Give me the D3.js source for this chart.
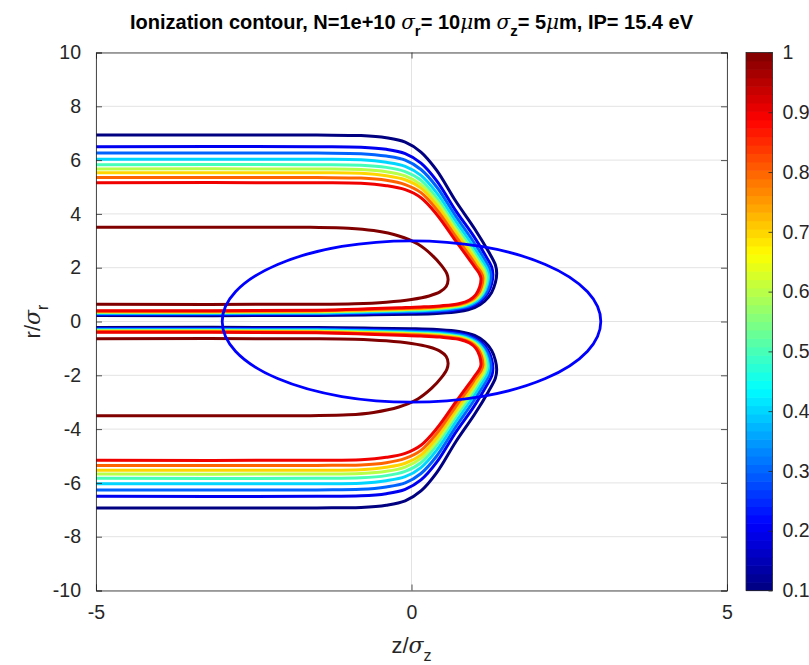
<!DOCTYPE html>
<html>
<head>
<meta charset="utf-8">
<script src="https://cdn.jsdelivr.net/npm/d3@7"></script>
<style>
body{margin:0;background:#fff;}
svg{font-family:"Liberation Sans",Arial,Helvetica,sans-serif;}
</style>
</head>
<body>
<svg width="809" height="665"></svg>
<script>
// contour levels (ionization fraction)
const levels = [0.1,0.2,0.3,0.4,0.5,0.6,0.7,0.8,0.9,1.0];

// upper half of each contour, [z/sigma_z, r/sigma_r]
const lvl01 = [[-5,6.93],[-1.5,6.93],[-0.8,6.91],[-0.4,6.83],[-0.1,6.67],[0.15,6.30],[0.4,5.62],[0.7,4.48],[1.0,3.45],[1.22,2.60],[1.33,2.10],[1.35,1.79],
               [1.33,1.45],[1.27,1.08],[1.16,0.76],[1.0,0.52],[0.75,0.37],[0.4,0.30],[0,0.27],[-0.6,0.25],[-1.5,0.225],[-5,0.22]];
const lvl02 = [[-5,6.50],[-1.5,6.50],[-0.8,6.48],[-0.4,6.40],[-0.1,6.24],[0.15,5.89],[0.4,5.23],[0.7,4.12],[0.98,3.19],[1.17,2.46],[1.27,2.03],[1.29,1.75],
               [1.27,1.41],[1.21,1.06],[1.10,0.77],[0.94,0.55],[0.68,0.42],[0.34,0.36],[-0.05,0.33],[-0.62,0.30],[-1.5,0.27],[-5,0.26]];
const lvl03 = [[-5,6.26],[-1.5,6.26],[-0.8,6.24],[-0.4,6.15],[-0.1,6.00],[0.15,5.65],[0.4,5.00],[0.7,3.92],[0.96,3.04],[1.14,2.38],[1.23,1.99],[1.26,1.73],
               [1.24,1.39],[1.18,1.05],[1.07,0.78],[0.91,0.57],[0.64,0.45],[0.31,0.39],[-0.08,0.36],[-0.64,0.33],[-1.5,0.30],[-5,0.29]];
const lvl04 = [[-5,6.03],[-1.5,6.03],[-0.8,6.01],[-0.4,5.92],[-0.1,5.77],[0.15,5.43],[0.4,4.78],[0.7,3.73],[0.95,2.89],[1.11,2.31],[1.20,1.95],[1.22,1.70],
               [1.20,1.36],[1.14,1.04],[1.04,0.78],[0.87,0.59],[0.60,0.48],[0.27,0.42],[-0.10,0.39],[-0.65,0.36],[-1.5,0.32],[-5,0.31]];
const lvl05 = [[-5,5.83],[-1.5,5.83],[-0.8,5.81],[-0.4,5.73],[-0.1,5.57],[0.15,5.25],[0.4,4.60],[0.7,3.56],[0.94,2.77],[1.08,2.25],[1.17,1.91],[1.20,1.69],
               [1.18,1.35],[1.12,1.03],[1.01,0.79],[0.85,0.61],[0.56,0.50],[0.25,0.45],[-0.12,0.42],[-0.66,0.39],[-1.5,0.35],[-5,0.33]];
const lvl06 = [[-5,5.67],[-1.5,5.67],[-0.8,5.65],[-0.4,5.57],[-0.1,5.41],[0.15,5.09],[0.4,4.46],[0.7,3.43],[0.93,2.68],[1.06,2.20],[1.15,1.89],[1.17,1.67],
               [1.15,1.33],[1.09,1.02],[0.99,0.79],[0.82,0.62],[0.54,0.52],[0.22,0.47],[-0.14,0.44],[-0.67,0.41],[-1.5,0.36],[-5,0.35]];
const lvl07 = [[-5,5.53],[-1.5,5.53],[-0.8,5.51],[-0.4,5.42],[-0.1,5.27],[0.15,4.96],[0.4,4.32],[0.7,3.31],[0.92,2.59],[1.05,2.15],[1.12,1.86],[1.15,1.66],
               [1.13,1.32],[1.07,1.02],[0.97,0.79],[0.80,0.63],[0.51,0.54],[0.20,0.49],[-0.16,0.46],[-0.68,0.42],[-1.5,0.38],[-5,0.36]];
const lvl08 = [[-5,5.35],[-1.5,5.35],[-0.8,5.33],[-0.4,5.25],[-0.1,5.09],[0.15,4.79],[0.4,4.16],[0.7,3.16],[0.91,2.48],[1.02,2.09],[1.10,1.83],[1.13,1.64],
               [1.11,1.30],[1.05,1.01],[0.95,0.80],[0.78,0.65],[0.48,0.56],[0.18,0.51],[-0.18,0.48],[-0.69,0.45],[-1.5,0.40],[-5,0.38]];
const lvl09 = [[-5,5.16],[-1.5,5.16],[-0.8,5.14],[-0.4,5.05],[-0.1,4.90],[0.15,4.60],[0.4,3.98],[0.7,3.00],[0.9,2.36],[1.0,2.03],[1.07,1.80],[1.10,1.62],
               [1.08,1.28],[1.02,1.00],[0.92,0.80],[0.75,0.66],[0.45,0.58],[0.15,0.54],[-0.2,0.51],[-0.7,0.47],[-1.5,0.42],[-5,0.40]];
const lvl10 = [[-5,3.50],[-1.6,3.50],[-1.0,3.47],[-0.6,3.38],[-0.2,3.18],[0.1,2.88],[0.32,2.48],[0.48,2.07],[0.56,1.78],[0.58,1.55],
               [0.55,1.30],[0.45,1.10],[0.28,0.95],[0,0.82],[-0.4,0.72],[-0.9,0.66],[-1.6,0.64],[-5,0.64]];
const contours = [lvl01,lvl02,lvl03,lvl04,lvl05,lvl06,lvl07,lvl08,lvl09,lvl10];

// bunch outline: semi-axes in z and r
const ellipseAxes = [3, 3];

const xTicks = [-5, 0, 5];
const yTicks = [-10,-8,-6,-4,-2,0,2,4,6,8,10];
const cbTicks = [0.1,0.2,0.3,0.4,0.5,0.6,0.7,0.8,0.9,1];

// matlab jet
const jet = t => {
    const c = v => Math.round(255*Math.max(0, Math.min(1, v)));
    return `rgb(${c(1.5-Math.abs(4*t-3))},${c(1.5-Math.abs(4*t-2))},${c(1.5-Math.abs(4*t-1))})`;
};

function Start(){
    const svg = d3.select('svg');
    const margin = { top:52.5, left:96 };
    const innerWidth = 727 - margin.left;
    const innerHeight = 590.5 - margin.top;

    const xscale = d3.scaleLinear().domain([-5,5]).range([0,innerWidth]);
    const yscale = d3.scaleLinear().domain([-10,10]).range([innerHeight,0]);
    const cscale = d3.scaleLinear().domain([0.1,1]).range([0,1]);

    const g = svg.append('g')
        .attr('transform',`translate(${margin.left},${margin.top})`);

    g.append('clipPath').attr('id','clip')
      .append('rect').attr('width',innerWidth).attr('height',innerHeight);

    // grid
    g.append('g').selectAll('line').data(xTicks).enter().append('line')
        .attr('x1',d=>xscale(d)).attr('x2',d=>xscale(d))
        .attr('y1',0).attr('y2',innerHeight)
        .attr('stroke','#e3e3e3').attr('stroke-width',1);
    g.append('g').selectAll('line').data(yTicks).enter().append('line')
        .attr('y1',d=>yscale(d)).attr('y2',d=>yscale(d))
        .attr('x1',0).attr('x2',innerWidth)
        .attr('stroke','#e3e3e3').attr('stroke-width',1);

    const plot = g.append('g').attr('clip-path','url(#clip)');

    const line = d3.line()
        .x(d=>xscale(d[0]))
        .y(d=>yscale(d[1]))
        .curve(d3.curveCatmullRom.alpha(0.5));

    contours.forEach((pts,i) => {
        const col = jet(cscale(levels[i]));
        plot.append('path').attr('d',line(pts))
            .attr('fill','none').attr('stroke',col).attr('stroke-width',3);
        plot.append('path').attr('d',line(pts.map(p=>[p[0],-p[1]])))
            .attr('fill','none').attr('stroke',col).attr('stroke-width',3);
    });

    plot.append('ellipse')
        .attr('cx',xscale(0)).attr('cy',yscale(0))
        .attr('rx',xscale(ellipseAxes[0])-xscale(0))
        .attr('ry',yscale(0)-yscale(ellipseAxes[1]))
        .attr('fill','none').attr('stroke','#0000ff').attr('stroke-width',2.8);

    // axes box with inward ticks
    const axisCol = '#262626';
    const tl = 6;
    const fmt = d => String(d);
    const xAxisB = d3.axisBottom(xscale).tickValues(xTicks).tickSize(-tl).tickPadding(tl+9).tickFormat(fmt);
    const xAxisT = d3.axisTop(xscale).tickValues(xTicks).tickSize(-tl).tickFormat('');
    const yAxisL = d3.axisLeft(yscale).tickValues(yTicks).tickSize(-tl).tickPadding(tl+9).tickFormat(fmt);
    const yAxisR = d3.axisRight(yscale).tickValues(yTicks).tickSize(-tl).tickFormat('');

    const axes = [
        g.append('g').attr('transform',`translate(0,${innerHeight})`).call(xAxisB),
        g.append('g').call(xAxisT),
        g.append('g').call(yAxisL),
        g.append('g').attr('transform',`translate(${innerWidth},0)`).call(yAxisR)
    ];
    axes.forEach(a => {
        a.selectAll('.domain').attr('stroke',axisCol).attr('stroke-width',0.8);
        a.selectAll('.tick line').attr('stroke',axisCol).attr('stroke-width',0.8);
        a.selectAll('.tick text').attr('fill',axisCol).attr('font-size',19.5)
            .attr('font-family','"Liberation Sans",Arial,sans-serif');
    });

    // title
    const greek = sel => sel.attr('font-style','italic').attr('font-family','"DejaVu Serif",serif').attr('font-weight','normal');
    const title = svg.append('text')
        .attr('x',margin.left+innerWidth/2).attr('y',29)
        .attr('text-anchor','middle')
        .attr('font-size',20).attr('font-weight','bold').attr('fill','#000');
    title.append('tspan').text('Ionization contour, N=1e+10 ');
    title.append('tspan').call(greek).text('σ');
    title.append('tspan').attr('dy',7).attr('font-size',15).text('r');
    title.append('tspan').attr('dy',-7).text('= 10');
    title.append('tspan').call(greek).text('μ');
    title.append('tspan').text('m ');
    title.append('tspan').call(greek).text('σ');
    title.append('tspan').attr('dy',7).attr('font-size',15).text('z');
    title.append('tspan').attr('dy',-7).text('= 5');
    title.append('tspan').call(greek).text('μ');
    title.append('tspan').text('m, IP= 15.4 eV');

    // axis labels
    const xl = svg.append('text')
        .attr('x',margin.left+innerWidth/2).attr('y',653)
        .attr('text-anchor','middle').attr('font-size',22).attr('fill','#262626');
    xl.append('tspan').text('z/');
    xl.append('tspan').attr('font-style','italic').attr('font-family','"DejaVu Serif",serif').text('σ');
    xl.append('tspan').attr('dy',8).attr('font-size',16).text('z');

    const yl = svg.append('text')
        .attr('transform',`translate(40,${margin.top+innerHeight/2}) rotate(-90)`)
        .attr('text-anchor','middle').attr('font-size',22).attr('fill','#262626');
    yl.append('tspan').text('r/');
    yl.append('tspan').attr('font-style','italic').attr('font-family','"DejaVu Serif",serif').text('σ');
    yl.append('tspan').attr('dy',8).attr('font-size',16).text('r');

    // colorbar
    const cbX = 746, cbW = 26.5;
    const cbY = d3.scaleLinear().domain([0.1,1]).range([590.5,52.5]);
    const nCol = 64;
    const cb = svg.append('g');
    cb.selectAll('rect').data(d3.range(nCol)).enter().append('rect')
        .attr('x',cbX)
        .attr('y',i=>cbY(0.1+0.9*(i+1)/nCol))
        .attr('width',cbW)
        .attr('height',(cbY(0.1)-cbY(1))/nCol+0.6)
        .attr('fill',i=>jet((i+0.5)/nCol));
    cb.append('rect').attr('x',cbX).attr('y',cbY(1)).attr('width',cbW)
        .attr('height',cbY(0.1)-cbY(1)).attr('fill','none')
        .attr('stroke',axisCol).attr('stroke-width',0.8);
    const cbAxis = d3.axisRight(cbY).tickValues(cbTicks).tickSize(-4).tickPadding(10).tickFormat(d3.format('~g'));
    const cbg = cb.append('g').attr('transform',`translate(${cbX+cbW},0)`).call(cbAxis);
    cbg.select('.domain').remove();
    cbg.selectAll('.tick line').attr('stroke',axisCol).attr('stroke-width',0.8);
    cbg.selectAll('.tick text').attr('fill',axisCol).attr('font-size',19.5)
        .attr('font-family','"Liberation Sans",Arial,sans-serif');
}
Start();
</script>
</body>
</html>
